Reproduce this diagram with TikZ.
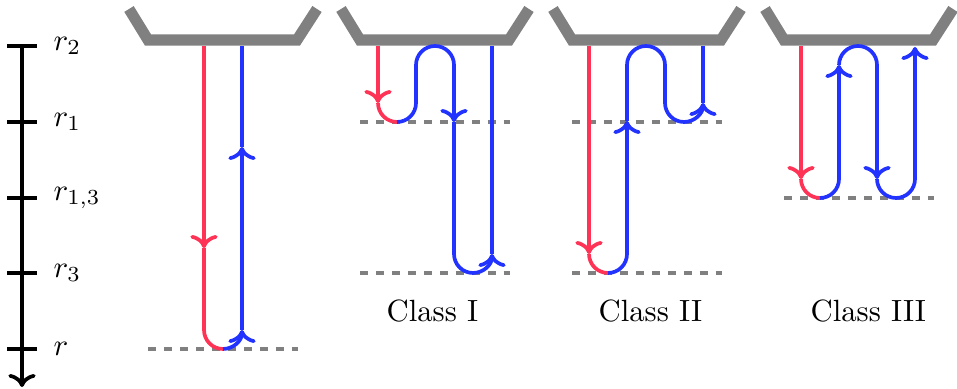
\documentclass[tikz,border=0pt]{standalone}
\usetikzlibrary{arrows.meta}
\definecolor{myred}{RGB}{255,51,85}
\definecolor{myblue}{RGB}{34,51,255}
\definecolor{mygray}{RGB}{128,128,128}
\begin{document}
\begin{tikzpicture}[x=0.3257pt,y=0.3257pt,
  tray/.style={draw=mygray,line width=3.6pt},
  level/.style={draw=mygray,line width=1.2pt,dash pattern=on 2.7pt off 2.5pt},
  redpath/.style={draw=myred,line width=1.2pt},
  bluepath/.style={draw=myblue,line width=1.2pt},
  axisline/.style={draw=black,line width=1.2pt},
  lab/.style={inner sep=0pt,anchor=west},
  classlab/.style={inner sep=0pt,anchor=base west}]
\useasboundingbox (0,0) rectangle (957,-389);

% axis
\draw[axisline,->] (22,-46) -- (22,-387);
\foreach \yy in {46,122,198,273,349} \draw[axisline] (7,-\yy) -- (37,-\yy);
\node[lab] (l2) at (53,-46) {$r_2$};
\node[lab] (l1) at (53,-122) {$r_1$};
\node[lab] (l13) at (53,-198) {$r_{1,3}$};
\node[lab] (l3) at (53,-273) {$r_3$};
\node[lab] (l0) at (53,-349) {$r$};

% trays
\foreach \ox in {0,212,424,636}
  \draw[tray] (129+\ox,-9) -- (148+\ox,-40) -- (297+\ox,-40) -- (317+\ox,-9);

% dashed levels
\draw[level] (148,-349) -- (298,-349);
\draw[level] (360,-122) -- (510,-122);
\draw[level] (360,-273) -- (510,-273);
\draw[level] (572,-122) -- (722,-122);
\draw[level] (572,-273) -- (722,-273);
\draw[level] (784,-198) -- (934,-198);

% tray 1
\draw[redpath,->] (204,-46) -- (204,-248);
\draw[redpath] (204,-248) -- (204,-330) arc[start angle=180,end angle=270,radius=19];
\draw[bluepath,->] (223,-349) arc[start angle=270,end angle=360,radius=19];
\draw[bluepath,->] (242,-330) -- (242,-147);
\draw[bluepath] (242,-147) -- (242,-46);

% Class I
\draw[redpath,->] (378,-46) -- (378,-103);
\draw[redpath] (378,-103) arc[start angle=180,end angle=270,radius=19];
\draw[bluepath,->] (397,-122) arc[start angle=270,end angle=360,radius=19]
  -- (416,-65) arc[start angle=180,end angle=0,radius=19] -- (454,-122);
\draw[bluepath,->] (454,-122) -- (454,-254) arc[start angle=180,end angle=360,radius=19];
\draw[bluepath] (492,-254) -- (492,-46);
\node[classlab] (c1) at (386,-322) {Class I};

% Class II
\draw[redpath,->] (589,-46) -- (589,-254);
\draw[redpath] (589,-254) arc[start angle=180,end angle=270,radius=19];
\draw[bluepath,->] (608,-273) arc[start angle=270,end angle=360,radius=19] -- (627,-121);
\draw[bluepath,->] (627,-121) -- (627,-65) arc[start angle=180,end angle=0,radius=19]
  -- (665,-103) arc[start angle=180,end angle=360,radius=19];
\draw[bluepath] (703,-103) -- (703,-46);
\node[classlab] (c2) at (598,-322) {Class II};

% Class III
\draw[redpath,->] (801,-46) -- (801,-179);
\draw[redpath] (801,-179) arc[start angle=180,end angle=270,radius=19];
\draw[bluepath,->] (820,-198) arc[start angle=270,end angle=360,radius=19] -- (839,-65);
\draw[bluepath,->] (839,-65) arc[start angle=180,end angle=0,radius=19] -- (877,-179);
\draw[bluepath,->] (877,-179) arc[start angle=180,end angle=360,radius=19] -- (915,-47);
\node[classlab] (c3) at (810,-322) {Class III};
\end{tikzpicture}
\end{document}
